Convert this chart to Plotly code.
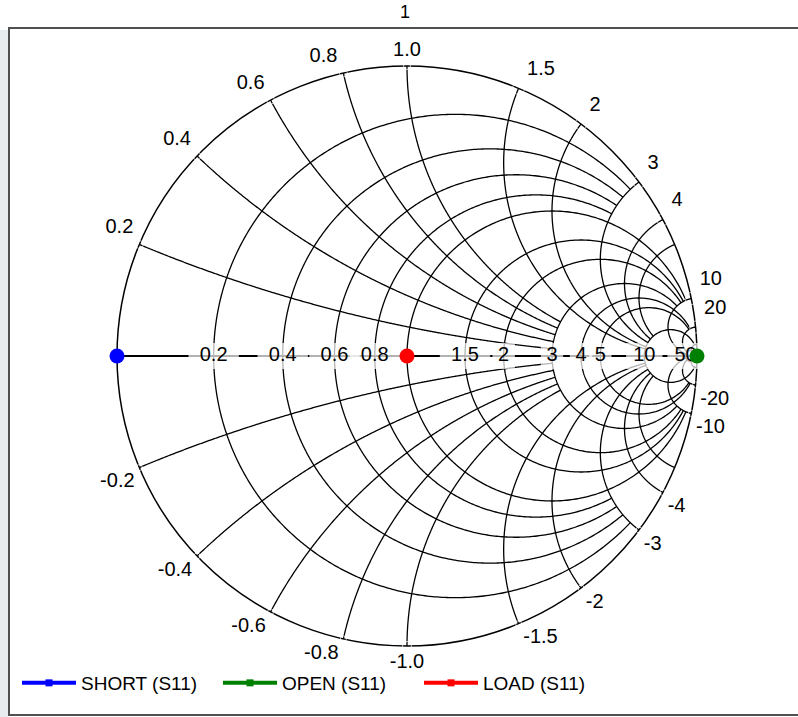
import numpy as np
import plotly.graph_objects as go

# ---------------- data ----------------
series_names = ["SHORT (S11)", "OPEN (S11)", "LOAD (S11)"]
series_colors = ["#0000ff", "#008000", "#ff0000"]
series_real = [[0.0], [1e6], [1.0]]
series_imag = [[0.0], [0.0], [0.0]]

# resistance circles and the reactance up to which each is drawn
r_circles = [0.2, 0.4, 0.6, 0.8, 1.0, 1.5, 2, 3, 4, 5, 10, 50]
r_xlimit = [3, 3, 3, 3, 10, 10, 10, 10, 20, 20, 50, 1e4]
# reactance arcs and the resistance up to which each is drawn
x_arcs = [0.2, 0.4, 0.6, 0.8, 1.0, 1.5, 2, 3, 4, 5, 10, 20, 50]
x_rlimit = [3, 3, 3, 3, 3, 10, 10, 10, 10, 10, 50, 50, 1e4]

real_labels = [0.2, 0.4, 0.6, 0.8, 1.5, 2, 3, 4, 5, 10, 50]
real_label_text = ["0.2", "0.4", "0.6", "0.8", "1.5", "2", "3", "4", "5", "10", "50"]
imag_labels = [0.2, 0.4, 0.6, 0.8, 1.0, 1.5, 2, 3, 4, 10, 20]
imag_label_text = ["0.2", "0.4", "0.6", "0.8", "1.0", "1.5", "2", "3", "4", "10", "20"]

title_text = "1"

# ---------------- layout constants ----------------
W, H = 798, 717
FONT = "Liberation Sans, Arial, sans-serif"
cx, cy, R = 407, 356, 290
GRID = dict(color="black", width=1.3)

fig = go.Figure()

# horizontal (real) axis line
t = np.linspace(0, np.pi / 2 * 0.99999, 300)
fig.add_trace(go.Scattersmith(real=np.tan(t), imag=np.zeros_like(t), mode="lines",
                              line=dict(color="black", width=1.8), showlegend=False, hoverinfo="skip"))

# grid: resistance circles
for r, xl in zip(r_circles, r_xlimit):
    t = np.linspace(-np.arctan(xl), np.arctan(xl), 500)
    fig.add_trace(go.Scattersmith(real=np.full_like(t, r), imag=np.tan(t), mode="lines",
                                  line=GRID, showlegend=False, hoverinfo="skip"))
# grid: reactance arcs
for x, rl in zip(x_arcs, x_rlimit):
    t = np.linspace(0, np.arctan(rl), 400)
    for s in (1, -1):
        fig.add_trace(go.Scattersmith(real=np.tan(t), imag=np.full_like(t, s * x), mode="lines",
                                      line=GRID, showlegend=False, hoverinfo="skip"))

# real-axis labels on white boxes
label_w = [len(s) * 10 + 6 for s in real_label_text]
fig.add_trace(go.Scattersmith(
    real=real_labels, imag=[0] * len(real_labels), mode="markers+text",
    text=real_label_text, textposition="middle center",
    textfont=dict(family=FONT, size=20, color="black"),
    marker=dict(symbol="line-ew", size=label_w, color="white",
                line=dict(color="white", width=26)),
    showlegend=False, hoverinfo="skip"))

# reactance labels outside the circle
def pos(v, sign):
    if abs(v - 1.0) < 1e-9:
        return "top center" if sign > 0 else "bottom center"
    vert = "top" if sign > 0 else "bottom"
    hor = "left" if v < 1 else "right"
    return f"{vert} {hor}"

def gap(v, sign):
    # invisible marker size -> distance of the label from the rim
    if sign > 0:
        if abs(v - 1.0) < 1e-9:
            return 7
        return 8 if v < 1 else 12
    if abs(v - 1.0) < 1e-9:
        return 9
    return 6

for sign in (1, -1):
    fig.add_trace(go.Scattersmith(
        real=[0] * len(imag_labels), imag=[sign * v for v in imag_labels],
        mode="markers+text",
        text=[("" if sign > 0 else "-") + s for s in imag_label_text],
        textposition=[pos(v, sign) for v in imag_labels],
        textfont=dict(family=FONT, size=20, color="black"),
        marker=dict(size=[gap(v, sign) for v in imag_labels], color="rgba(0,0,0,0)"),
        showlegend=False, hoverinfo="skip"))

# legend entries (line + small square marker)
for name, color, re, im in zip(series_names, series_colors, series_real, series_imag):
    fig.add_trace(go.Scattersmith(real=re, imag=im, name=name, mode="lines+markers",
                                  line=dict(color=color, width=4),
                                  marker=dict(color=color, size=7, symbol="square"),
                                  legendgroup=name, hoverinfo="skip"))
# data points
for name, color, re, im in zip(series_names, series_colors, series_real, series_imag):
    fig.add_trace(go.Scattersmith(real=re, imag=im, name=name, mode="markers",
                                  marker=dict(color=color, size=15),
                                  legendgroup=name, showlegend=False))

fig.update_layout(
    width=W, height=H,
    margin=dict(l=0, r=0, t=0, b=0),
    paper_bgcolor="white",
    font=dict(family=FONT, size=19, color="black"),
    title=dict(text=title_text, x=405 / W, y=1 - 12 / H, xanchor="center", yanchor="middle",
               font=dict(family=FONT, size=18, color="black")),
    showlegend=True,
    legend=dict(orientation="h", x=17 / W, y=1 - 683 / H, xanchor="left", yanchor="middle",
                itemwidth=54, entrywidth=132, entrywidthmode="pixels",
                font=dict(family=FONT, size=19, color="black"), bgcolor="rgba(0,0,0,0)"),
    smith=dict(
        domain=dict(x=[(cx - R) / W, (cx + R) / W], y=[1 - (cy + R) / H, 1 - (cy - R) / H]),
        bgcolor="white",
        realaxis=dict(showgrid=False, showticklabels=False, ticks="", showline=False),
        imaginaryaxis=dict(showgrid=False, showticklabels=False, ticks="", showline=True,
                           linecolor="black", linewidth=1.5, layer="below traces"),
    ),
    shapes=[
        dict(type="rect", xref="paper", yref="paper", x0=-0.01, x1=8 / W, y0=-0.01, y1=1 - 30 / H,
             line=dict(width=0), fillcolor="#e8ecef", layer="below"),
        dict(type="rect", xref="paper", yref="paper",
             x0=9 / W, x1=1.05, y0=1 - 715 / H, y1=1 - 28 / H,
             line=dict(color="#505050", width=2), fillcolor="rgba(0,0,0,0)", layer="below"),
    ],
)
fig.write_html("out.html", config={"displayModeBar": False},
               post_script="document.body.style.margin='0';")
